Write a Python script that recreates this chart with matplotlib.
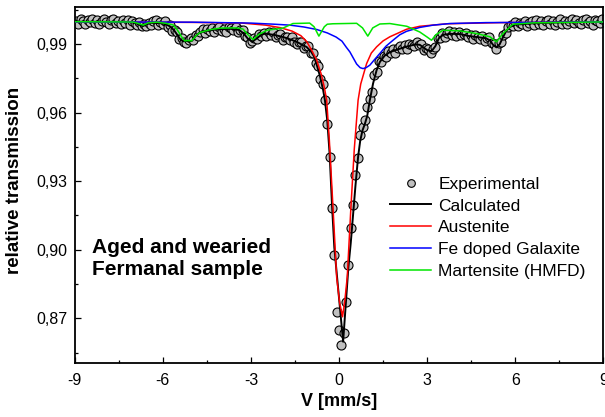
import numpy as np
import matplotlib
matplotlib.use("Agg")
import matplotlib.pyplot as plt
from matplotlib.ticker import MultipleLocator, FuncFormatter

plt.rcParams['font.family'] = ['Liberation Sans', 'DejaVu Sans']
plt.rcParams['axes.unicode_minus'] = False

# measured spectrum: 225 channels, -8.96 .. 8.96 mm/s
velocity = np.linspace(-8.96, 8.96, 225)
experimental = [
    1.0002, 0.9989, 1.0009, 1.0000, 0.9987, 1.0004, 0.9995, 1.0011, 0.9991, 1.0006,
    0.9985, 1.0001, 1.0008, 0.9994, 0.9988, 1.0003, 1.0010, 0.9992, 0.9999, 0.9986,
    1.0005, 0.9992, 1.0006, 0.9982, 0.9999, 0.9993, 0.9981, 0.9996, 0.9978, 0.9989,
    0.9979, 0.9992, 0.9982, 0.9999, 1.0003, 0.9983, 0.9995, 0.9986, 1.0001, 0.9973,
    0.9983, 0.9956, 0.9959, 0.9952, 0.9922, 0.9924, 0.9910, 0.9902, 0.9918, 0.9925,
    0.9917, 0.9940, 0.9935, 0.9952, 0.9964, 0.9949, 0.9964, 0.9957, 0.9970, 0.9952,
    0.9967, 0.9976, 0.9958, 0.9966, 0.9952, 0.9974, 0.9971, 0.9962, 0.9974, 0.9954,
    0.9959, 0.9960, 0.9933, 0.9932, 0.9903, 0.9914, 0.9925, 0.9920, 0.9945, 0.9933,
    0.9949, 0.9935, 0.9951, 0.9939, 0.9951, 0.9931, 0.9939, 0.9942, 0.9919, 0.9931,
    0.9932, 0.9916, 0.9929, 0.9910, 0.9901, 0.9909, 0.9908, 0.9884, 0.9889, 0.9891,
    0.9862, 0.9859, 0.9815, 0.9803, 0.9746, 0.9725, 0.9654, 0.9552, 0.9406, 0.9181,
    0.8977, 0.8729, 0.8650, 0.8583, 0.8634, 0.8772, 0.8933, 0.9093, 0.9195, 0.9326,
    0.9399, 0.9501, 0.9537, 0.9567, 0.9625, 0.9661, 0.9690, 0.9762, 0.9777, 0.9825,
    0.9823, 0.9848, 0.9843, 0.9871, 0.9861, 0.9876, 0.9862, 0.9882, 0.9891, 0.9877,
    0.9894, 0.9878, 0.9898, 0.9896, 0.9890, 0.9908, 0.9894, 0.9900, 0.9872, 0.9880,
    0.9878, 0.9860, 0.9879, 0.9888, 0.9924, 0.9924, 0.9946, 0.9931, 0.9946, 0.9957,
    0.9939, 0.9950, 0.9935, 0.9953, 0.9938, 0.9942, 0.9949, 0.9928, 0.9938, 0.9921,
    0.9939, 0.9932, 0.9922, 0.9936, 0.9913, 0.9927, 0.9928, 0.9903, 0.9899, 0.9877,
    0.9903, 0.9910, 0.9940, 0.9948, 0.9972, 0.9984, 0.9977, 0.9995, 0.9978, 0.9991,
    0.9985, 1.0000, 0.9979, 0.9993, 0.9999, 0.9984, 1.0005, 0.9989, 0.9999, 0.9981,
    0.9998, 1.0003, 0.9989, 1.0002, 0.9982, 0.9997, 1.0009, 0.9988, 1.0001, 0.9987,
    0.9998, 1.0007, 0.9991, 1.0005, 0.9993, 0.9986, 1.0004, 1.0009, 0.9991, 1.0001,
    0.9984, 1.0005, 1.0000, 0.9990, 1.0008,
]

# fitted curves (velocity, transmission)
calc_v = [-9.0, -7.2, -6.95, -6.8, -6.67, -6.55, -6.4, -6.1, -5.9, -5.75, -5.62, -5.5,
          -5.4, -5.3, -5.2, -5.1, -5.0, -4.9, -4.77, -4.6, -4.2, -3.7, -3.4, -3.25,
          -3.1, -2.95, -2.8, -2.65, -2.5, -2.2, -1.9, -1.6, -1.44, -1.25, -1.1, -0.95,
          -0.85, -0.75, -0.65, -0.54, -0.48, -0.40, -0.32, -0.24, -0.16, -0.08, 0.0,
          0.08, 0.14, 0.24, 0.32, 0.40, 0.48, 0.56, 0.65, 0.72, 0.80, 0.88, 0.96,
          1.05, 1.16, 1.28, 1.39, 1.55, 1.73, 2.0, 2.3, 2.6, 2.75, 2.9, 3.0, 3.15,
          3.28, 3.4, 3.55, 3.8, 4.12, 4.4, 4.68, 5.0, 5.14, 5.25, 5.36, 5.47, 5.59,
          5.7, 5.82, 6.0, 6.6, 7.5, 9.0]
calc_t = [0.9997, 0.9996, 0.9992, 0.9984, 0.9978, 0.9986, 0.9992, 0.9991, 0.9986,
          0.9976, 0.9960, 0.9938, 0.9919, 0.9911, 0.9913, 0.9910, 0.9914, 0.9932,
          0.9947, 0.9955, 0.9963, 0.9966, 0.9961, 0.9946, 0.9922, 0.9910, 0.9924,
          0.9940, 0.9945, 0.9939, 0.9930, 0.9917, 0.9909, 0.9896, 0.9886, 0.9866,
          0.9845, 0.9805, 0.9760, 0.9698, 0.9654, 0.9565, 0.9420, 0.9200, 0.9010,
          0.8900, 0.8790, 0.8680, 0.8598, 0.8780, 0.8925, 0.9030, 0.9155, 0.9280,
          0.9406, 0.9475, 0.9522, 0.9550, 0.9585, 0.9654, 0.9727, 0.9785, 0.9821,
          0.9848, 0.9864, 0.9876, 0.9888, 0.9898, 0.9896, 0.9882, 0.9873, 0.9868,
          0.9890, 0.9925, 0.9940, 0.9944, 0.9943, 0.9935, 0.9930, 0.9925, 0.9915,
          0.9895, 0.9885, 0.9898, 0.9931, 0.9958, 0.9974, 0.9984, 0.9990, 0.9994,
          0.9996]

aust_v = [-9.0, -5.0, -3.3, -2.5, -2.0, -1.6, -1.3, -1.1, -0.9, -0.76, -0.6, -0.5,
          -0.42, -0.33, -0.2, -0.08, 0.02, 0.12, 0.20, 0.28, 0.40, 0.52, 0.65, 0.74,
          0.94, 1.1, 1.28, 1.5, 1.73, 2.3, 2.75, 3.7, 5.5, 9.0]
aust_t = [0.9996, 0.9994, 0.9991, 0.9982, 0.9971, 0.9956, 0.9936, 0.9910, 0.9865,
          0.9829, 0.9765, 0.9710, 0.9654, 0.9480, 0.9173, 0.8880, 0.8770, 0.8707,
          0.8780, 0.8880, 0.9173, 0.9440, 0.9654, 0.9725, 0.9814, 0.9860, 0.9887,
          0.9913, 0.9931, 0.9964, 0.9977, 0.9988, 0.9993, 0.9996]

galax_v = [-9.0, -5.0, -3.0, -2.2, -1.67, -1.2, -0.76, -0.4, -0.1, 0.1, 0.25, 0.37,
           0.5, 0.6, 0.72, 0.82, 0.92, 1.05, 1.2, 1.39, 1.6, 1.84, 2.07, 2.3, 2.75,
           3.2, 3.77, 5.0, 9.0]
galax_t = [0.9996, 0.9995, 0.9991, 0.9986, 0.9982, 0.9974, 0.9963, 0.9948, 0.9930,
           0.9912, 0.9885, 0.9865, 0.9835, 0.9812, 0.9796, 0.9792, 0.9796, 0.9807,
           0.9830, 0.9858, 0.9890, 0.9916, 0.9940, 0.9955, 0.9972, 0.9982, 0.9989,
           0.9993, 0.9996]

mart_v = [-9.0, -7.3, -7.0, -6.85, -6.67, -6.5, -6.2, -5.9, -5.65, -5.5, -5.36, -5.25,
          -5.15, -5.02, -4.85, -4.73, -4.4, -4.05, -3.5, -3.27, -3.1, -2.93, -2.75,
          -2.45, -1.91, -1.57, -1.0, -0.85, -0.685, -0.5, -0.4, -0.21, 0.6, 0.8, 0.98,
          1.15, 1.39, 1.73, 2.31, 2.75, 3.0, 3.15, 3.3, 3.54, 4.11, 4.69, 5.14, 5.36,
          5.58, 5.92, 6.6, 9.0]
mart_t = [0.9997, 0.9996, 0.9995, 0.9990, 0.9982, 0.9992, 0.9995, 0.9990, 0.9983,
          0.9960, 0.9931, 0.9913, 0.9915, 0.9913, 0.9938, 0.9950, 0.9962, 0.9969,
          0.9970, 0.9965, 0.9940, 0.9919, 0.9940, 0.9960, 0.9969, 0.9989, 0.9991,
          0.9975, 0.9934, 0.9975, 0.9986, 0.9988, 0.9990, 0.9970, 0.9934, 0.9970,
          0.9987, 0.9989, 0.9977, 0.9952, 0.9930, 0.9916, 0.9940, 0.9960, 0.9957,
          0.9945, 0.9931, 0.9909, 0.9945, 0.9986, 0.9992, 0.9996]

fig = plt.figure(figsize=(6.05, 4.17), dpi=100)
ax = fig.add_axes([0.1235, 0.1295, 0.8737, 0.853])

ax.plot(velocity, experimental, 'o', ms=6.5, mfc='#c0c0c0', mec='black', mew=0.8,
        label='Experimental', zorder=2)
ax.plot(calc_v, calc_t, color='black', lw=1.4, label='Calculated', zorder=3)
ax.plot(aust_v, aust_t, color='#ff0000', lw=1.1, label='Austenite', zorder=4)
ax.plot(galax_v, galax_t, color='#0000ff', lw=1.1, label='Fe doped Galaxite', zorder=4)
ax.plot(mart_v, mart_t, color='#00e600', lw=1.1, label='Martensite (HMFD)', zorder=5)

ax.set_xlim(-9, 9)
ax.set_ylim(0.8505, 1.006)
ax.xaxis.set_major_locator(MultipleLocator(3))
ax.xaxis.set_minor_locator(MultipleLocator(1.5))
ax.yaxis.set_major_locator(MultipleLocator(0.03))
ax.yaxis.set_minor_locator(MultipleLocator(0.015))
ax.xaxis.set_major_formatter(FuncFormatter(lambda x, p: '{:g}'.format(x)))
ax.yaxis.set_major_formatter(FuncFormatter(lambda y, p: '{:.2f}'.format(y).replace('.', ',')))
ax.tick_params(which='both', direction='in', top=False, right=False, width=0.9)
ax.tick_params(which='major', length=4, labelsize=11.5)
ax.tick_params(axis='x', which='major', pad=7)
ax.tick_params(axis='y', which='major', pad=5)
ax.tick_params(which='minor', length=2.5)
for s in ax.spines.values():
    s.set_linewidth(1.3)

fig.text(339 / 605, 1 - 402 / 417, 'V [mm/s]', ha='center', va='center',
         fontsize=13, fontweight='bold')
fig.text(15 / 605, 1 - 180 / 417, 'relative transmission', ha='center', va='center',
         rotation=90, fontsize=13.5, fontweight='bold')

ax.text(0.032, 0.294, 'Aged and wearied\nFermanal sample', transform=ax.transAxes,
        ha='left', va='center', fontsize=15, fontweight='bold', linespacing=1.25)

ax.legend(loc='upper left', bbox_to_anchor=(0.596, 0.524), frameon=False,
          borderpad=0, borderaxespad=0, handlelength=2.4, handletextpad=0.4,
          labelspacing=0.38, fontsize=12.5, markerscale=0.85)

fig.savefig('out.png', dpi=100)
